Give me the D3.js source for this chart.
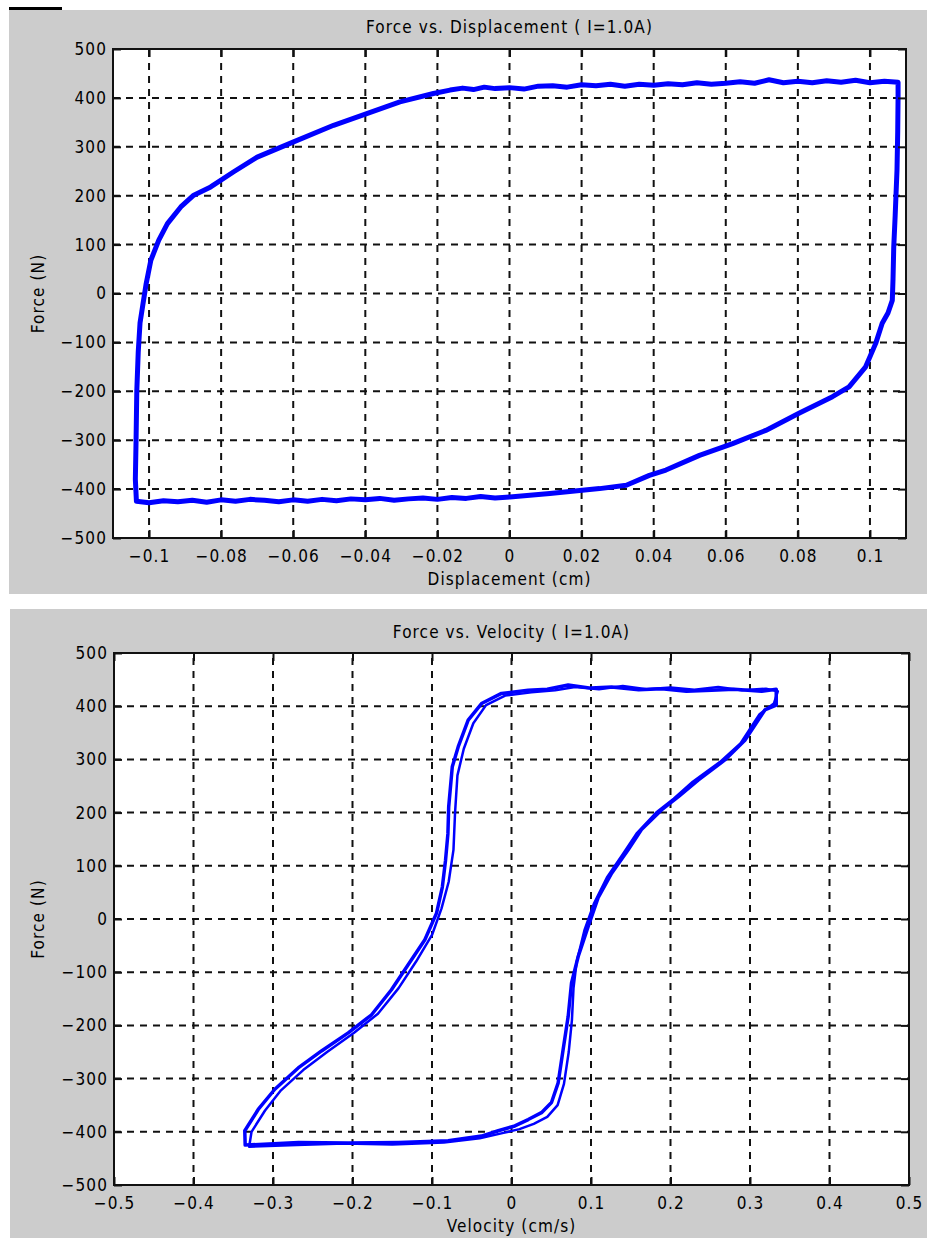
<!DOCTYPE html>
<html>
<head>
<meta charset="utf-8">
<script src="https://cdn.jsdelivr.net/npm/d3@7"></script>
<style>
  html, body { margin: 0; padding: 0; background: #fff; }
  svg { display: block; }
  text { font-family: "DejaVu Sans Condensed", "Liberation Sans Narrow", sans-serif; fill: #000; letter-spacing: 1.1px; }
</style>
</head>
<body>
<svg id="fig" width="927" height="1238"></svg>
<script>
// Damper test at I = 1.0 A: force against displacement and velocity.

// Force vs. displacement loop (displacement in cm, force in N)
const dispCm = [
  -0.1035, -0.1038, -0.1036, -0.1034, -0.1030, -0.1025, -0.1018, -0.1008, -0.0995, -0.0973,
  -0.0949, -0.0912, -0.0876, -0.0829, -0.0765, -0.0700, -0.0599, -0.0488, -0.0396, -0.0304,
  -0.0211, -0.0165, -0.013, -0.010, -0.007, -0.004, 0.000, 0.004, 0.008, 0.012,
  0.016, 0.020, 0.024, 0.028, 0.032, 0.036, 0.040, 0.044, 0.048, 0.052,
  0.056, 0.060, 0.064, 0.068, 0.072, 0.076, 0.080, 0.084, 0.088, 0.092,
  0.096, 0.100, 0.104, 0.1078, 0.1078, 0.1077, 0.1075, 0.1070, 0.1066, 0.1064,
  0.1062, 0.1050, 0.1034, 0.1016, 0.0988, 0.0942, 0.0896, 0.0803, 0.0711, 0.0619,
  0.0527, 0.0434, 0.0388, 0.0324, 0.0250, 0.0112, 0.0001, -0.004, -0.008, -0.012,
  -0.016, -0.020, -0.024, -0.028, -0.032, -0.036, -0.040, -0.044, -0.048, -0.052,
  -0.056, -0.060, -0.064, -0.068, -0.072, -0.076, -0.080, -0.084, -0.088, -0.092,
  -0.096, -0.100, -0.1035
];
const dispForce = [
  -425, -380, -300, -200, -120, -60, -27, 20, 68, 109,
  143, 177, 201, 218, 249, 279, 310, 344, 368, 392,
  409, 416, 420, 417, 422, 419, 421, 418, 424, 425,
  422, 427, 425, 428, 424, 428, 426, 429, 427, 431,
  428, 430, 433, 430, 437, 431, 434, 431, 435, 432,
  436, 431, 434, 432, 400, 330, 252, 160, 95, 30,
  -14, -40, -61, -102, -150, -191, -211, -245, -280, -307,
  -331, -361, -372, -392, -399, -409, -416, -418, -415, -419,
  -417, -421, -418, -420, -423, -419, -422, -420, -424, -421,
  -425, -422, -426, -423, -421, -425, -422, -427, -423, -426,
  -424, -428, -425
];

// Force vs. velocity, two recorded cycles (velocity in cm/s, force in N)
const velCms = [
  -0.335, -0.3355, -0.3186, -0.2977, -0.2683, -0.239, -0.2054, -0.176, -0.151, -0.130,
  -0.109, -0.0943, -0.0870, -0.0830, -0.0800, -0.0790, -0.0745, -0.067, -0.0545, -0.0377,
  -0.0126, 0.021, 0.045, 0.0713, 0.100, 0.126, 0.160, 0.189, 0.220, 0.2516,
  0.280, 0.3145, 0.333, 0.333, 0.3187, 0.2936, 0.2684, 0.2348, 0.210, 0.1887,
  0.1635, 0.1468, 0.126, 0.109, 0.0965, 0.084, 0.0755, 0.0713, 0.065, 0.0587,
  0.0503, 0.0377, 0.021, 0.0042, -0.0167, -0.0377, -0.0797, -0.142, -0.2054, -0.268,
  -0.335
];
const velForce = [
  -425, -398, -358, -320, -280, -248, -214, -180, -133, -86,
  -39, 11, 60, 110, 160, 211, 286, 324, 374, 405,
  424, 430, 432, 440, 434, 436, 431, 433, 428, 430,
  432, 428, 432, 402, 393, 336, 299, 261, 230, 205,
  168, 130, 86, 40, -14, -70, -120, -183, -245, -308,
  -345, -364, -377, -389, -398, -408, -417, -420, -421, -420,
  -425
];
const velCms2 = [
  -0.330, -0.327, -0.310, -0.290, -0.262, -0.232, -0.198, -0.168, -0.142, -0.120,
  -0.100, -0.088, -0.079, -0.073, -0.071, -0.068, -0.060, -0.048, -0.032, -0.008,
  0.025, 0.055, 0.080, 0.110, 0.140, 0.170, 0.200, 0.230, 0.260, 0.290,
  0.320, 0.335, 0.330, 0.312, 0.288, 0.262, 0.228, 0.204, 0.182, 0.158,
  0.140, 0.120, 0.104, 0.092, 0.082, 0.078, 0.076, 0.072, 0.066, 0.058,
  0.045, 0.028, 0.010, -0.010, -0.040, -0.085, -0.150, -0.210, -0.270, -0.330
];
const velForce2 = [
  -428, -400, -360, -322, -284, -250, -214, -178, -130, -80,
  -30, 20, 70, 130, 200, 270, 320, 368, 402, 420,
  426, 430, 436, 432, 438, 432, 435, 431, 436, 430,
  433, 428, 405, 385, 330, 295, 258, 226, 200, 162,
  122, 78, 30, -20, -80, -130, -190, -250, -310, -350,
  -372, -385, -395, -402, -412, -420, -424, -422, -425, -428
];

// Axis ticks
const dispTicks = [-0.1, -0.08, -0.06, -0.04, -0.02, 0, 0.02, 0.04, 0.06, 0.08, 0.1];
const velTicks = [-0.5, -0.4, -0.3, -0.2, -0.1, 0, 0.1, 0.2, 0.3, 0.4, 0.5];
const forceTicks = [-500, -400, -300, -200, -100, 0, 100, 200, 300, 400, 500];

const svg = d3.select("#fig");
const FS = 17;

const fmt = d => d === 0 ? "0" : String(+d.toFixed(2)).replace("-", "\u2212");

// Grey figure panels and the small mark above the first one
svg.append("rect").attr("x", 9).attr("y", 7).attr("width", 53).attr("height", 3).attr("fill", "#000");
svg.append("rect").attr("x", 9).attr("y", 10).attr("width", 918).attr("height", 584).attr("fill", "#cccccc");
svg.append("rect").attr("x", 10).attr("y", 609).attr("width", 917).attr("height", 629).attr("fill", "#cccccc");

function panel(cfg) {
  const { left, right, top, bottom, xDomain, xTicks, traces, title, xLabel, titleY, xLabelY, tickY } = cfg;
  const x = d3.scaleLinear().domain(xDomain).range([left, right]);
  const y = d3.scaleLinear().domain([-500, 500]).range([bottom, top]);
  const w = right - left, h = bottom - top;
  const g = svg.append("g");

  g.append("rect").attr("x", left).attr("y", top).attr("width", w).attr("height", h).attr("fill", "#fff");

  // dashed grid
  const grid = g.append("g").attr("stroke", "#111").attr("stroke-width", 2).attr("stroke-dasharray", "7,6");
  grid.selectAll(".gx").data(xTicks).join("line")
    .attr("x1", d => x(d)).attr("x2", d => x(d)).attr("y1", bottom).attr("y2", top);
  grid.selectAll(".gy").data(forceTicks.slice(1, -1)).join("line")
    .attr("y1", d => y(d)).attr("y2", d => y(d)).attr("x1", left).attr("x2", right);

  // loop traces
  const line = d3.line().x(d => x(d[0])).y(d => y(d[1]));
  traces.forEach(t => {
    const pts = t.xs.map((v, i) => [v, t.ys[i]]);
    g.append("path").datum(pts)
      .attr("fill", "none").attr("stroke", "#0000ff").attr("stroke-width", t.w)
      .attr("stroke-linejoin", "round").attr("stroke-linecap", "round")
      .attr("d", line);
  });

  // inward ticks on all four sides
  const tickLen = 8;
  const axStyle = sel => {
    sel.select(".domain").remove();
    sel.selectAll(".tick line").attr("stroke", "#111").attr("stroke-width", 2);
    sel.selectAll(".tick text").attr("font-size", FS).attr("fill", "#000");
  };
  g.append("g").attr("transform", `translate(0,${bottom})`)
    .call(d3.axisBottom(x).tickValues(xTicks).tickFormat(fmt).tickSize(-tickLen).tickPadding(tickY))
    .call(axStyle);
  g.append("g").attr("transform", `translate(0,${top})`)
    .call(d3.axisTop(x).tickValues(xTicks).tickFormat("").tickSize(-tickLen))
    .call(axStyle);
  g.append("g").attr("transform", `translate(${left},0)`)
    .call(d3.axisLeft(y).tickValues(forceTicks).tickFormat(fmt).tickSize(-tickLen).tickPadding(6))
    .call(axStyle);
  g.append("g").attr("transform", `translate(${right},0)`)
    .call(d3.axisRight(y).tickValues(forceTicks).tickFormat("").tickSize(-tickLen))
    .call(axStyle);

  g.selectAll("text").attr("font-family", null);

  // axes box
  g.append("rect").attr("x", left).attr("y", top).attr("width", w).attr("height", h)
    .attr("fill", "none").attr("stroke", "#111").attr("stroke-width", 2);

  // labels
  g.append("text").attr("x", (left + right) / 2).attr("y", titleY)
    .attr("text-anchor", "middle").attr("font-size", FS).text(title);
  g.append("text").attr("x", (left + right) / 2).attr("y", xLabelY)
    .attr("text-anchor", "middle").attr("font-size", FS).text(xLabel);
  g.append("text").attr("transform", `translate(44,${(top + bottom) / 2}) rotate(-90)`)
    .attr("text-anchor", "middle").attr("font-size", FS).text("Force (N)");
}

panel({
  left: 113, right: 906, top: 49, bottom: 538,
  xDomain: [-0.11, 0.11], xTicks: dispTicks,
  traces: [{ xs: dispCm, ys: dispForce, w: 5 }],
  title: "Force vs. Displacement ( I=1.0A)", xLabel: "Displacement (cm)",
  titleY: 33, xLabelY: 585, tickY: 12
});

panel({
  left: 114, right: 909, top: 653, bottom: 1185,
  xDomain: [-0.5, 0.5], xTicks: velTicks,
  traces: [{ xs: velCms, ys: velForce, w: 3.5 }, { xs: velCms2, ys: velForce2, w: 2.5 }],
  title: "Force vs. Velocity ( I=1.0A)", xLabel: "Velocity (cm/s)",
  titleY: 638, xLabelY: 1232, tickY: 12
});
</script>
</body>
</html>
